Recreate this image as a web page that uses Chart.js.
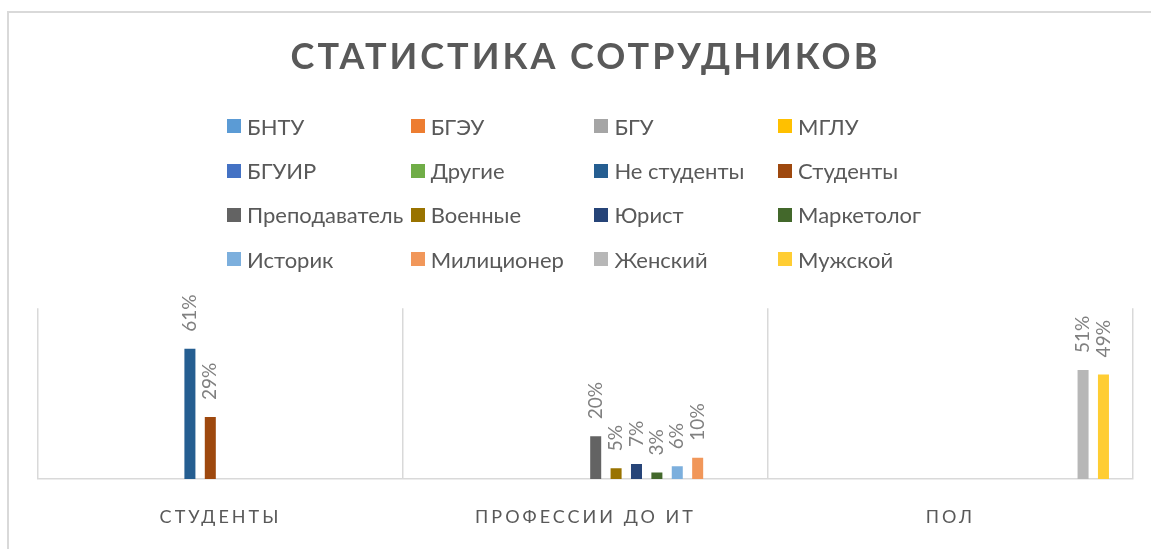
<!DOCTYPE html>
<html>
<head>
<meta charset="utf-8">
<script src="https://cdn.jsdelivr.net/npm/chart.js@4.4.1/dist/chart.umd.min.js"></script>
<style>
  html, body { margin: 0; padding: 0; background: #fff; overflow: hidden; }
  #wrap { position: relative; width: 1151px; height: 549px; }
  #frame { position: absolute; left: 7px; top: 11px; width: 1200px; height: 600px;
           border-left: 2px solid #d9d9d9; border-top: 2px solid #d9d9d9; }
  canvas { position: absolute; left: 0; top: 0; }
  #legend { position: absolute; left: 227px; top: 104px; display: grid;
            grid-template-columns: repeat(4, 183.7px); grid-auto-rows: 44.4px;
            font-family: Lato, sans-serif; font-size: 22px; color: #595959; }
  .item { display: flex; align-items: center; white-space: nowrap; }
  .box { width: 14px; height: 14px; margin-right: 6px; flex: none; }
</style>
</head>
<body>
<div id="wrap">
  <div id="frame"></div>
  <canvas id="staffChart" width="1151" height="549"></canvas>
  <div id="legend"></div>
</div>
<script>
// категории и серии
const categories = ["СТУДЕНТЫ", "ПРОФЕССИИ ДО ИТ", "ПОЛ"];

const bntu          = [null, null, null];
const bgeu          = [null, null, null];
const bgu           = [null, null, null];
const mglu          = [null, null, null];
const bguir         = [null, null, null];
const others        = [null, null, null];
const notStudents   = [0.61, null, null];
const students      = [0.29, null, null];
const teacher       = [null, 0.20, null];
const military      = [null, 0.05, null];
const lawyer        = [null, 0.07, null];
const marketer      = [null, 0.03, null];
const historian     = [null, 0.06, null];
const policeman     = [null, 0.10, null];
const female        = [null, null, 0.51];
const male          = [null, null, 0.49];

const seriesNames = ["БНТУ", "БГЭУ", "БГУ", "МГЛУ", "БГУИР", "Другие", "Не студенты", "Студенты",
                     "Преподаватель", "Военные", "Юрист", "Маркетолог", "Историк", "Милиционер", "Женский", "Мужской"];
const seriesValues = [bntu, bgeu, bgu, mglu, bguir, others, notStudents, students,
                      teacher, military, lawyer, marketer, historian, policeman, female, male];
const seriesColors = ["#5B9BD5", "#ED7D31", "#A5A5A5", "#FFC000", "#4472C4", "#70AD47", "#255E91", "#9E480E",
                      "#636363", "#997300", "#264478", "#43682B", "#7CAFDD", "#F1975A", "#B7B7B7", "#FFCD33"];

const htmlLegend = {
    id: "htmlLegend",
    afterUpdate(chart) {
        const box = document.getElementById("legend");
        box.innerHTML = "";
        Chart.defaults.plugins.legend.labels.generateLabels(chart).forEach(item => {
            const el = document.createElement("div");
            el.className = "item";
            const sw = document.createElement("span");
            sw.className = "box";
            sw.style.background = item.fillStyle;
            const tx = document.createElement("span");
            tx.textContent = item.text;
            el.append(sw, tx);
            box.append(el);
        });
    }
};

// разрядка букв в заголовке и подписях оси
const spacing = {
    id: "spacing",
    afterLayout(chart) {
        const x = chart.scales.x;
        if (x._spaced) return;
        const orig = x.drawLabels.bind(x);
        x.drawLabels = function (area) {
            const c = this.ctx;
            c.save();
            c.letterSpacing = "3px";
            orig(area);
            c.restore();
        };
        x._spaced = true;
    },
    beforeDraw(chart) { chart.ctx.letterSpacing = "3px"; },
    afterDraw(chart) { chart.ctx.letterSpacing = "0px"; }
};

const barLabels = {
    id: "barLabels",
    afterDatasetsDraw(chart) {
        const ctx = chart.ctx;
        ctx.save();
        ctx.letterSpacing = "0px";
        ctx.font = "19px Lato";
        ctx.fillStyle = "#808080";
        ctx.textAlign = "left";
        ctx.textBaseline = "middle";
        chart.data.datasets.forEach((ds, i) => {
            chart.getDatasetMeta(i).data.forEach((bar, j) => {
                const v = ds.data[j];
                if (v == null) return;
                ctx.save();
                ctx.translate(bar.x, bar.y - 17);
                ctx.rotate(-Math.PI / 2);
                ctx.fillText(Math.round(v * 100) + "%", 0, 0);
                ctx.restore();
            });
        });
        ctx.restore();
    }
};

new Chart(document.getElementById("staffChart"), {
    type: "bar",
    data: {
        labels: categories,
        datasets: seriesNames.map((name, i) => ({
            label: name,
            data: seriesValues[i],
            backgroundColor: seriesColors[i],
            categoryPercentage: 0.894,
            barPercentage: 0.54
        }))
    },
    options: {
        responsive: false,
        devicePixelRatio: 1,
        animation: false,
        events: [],
        layout: { padding: { left: 38, right: 18, top: 0, bottom: 0 } },
        plugins: {
            legend: { display: false },
            tooltip: { enabled: false },
            title: {
                display: true,
                text: "СТАТИСТИКА СОТРУДНИКОВ",
                color: "#595959",
                font: { family: "Lato", size: 36, weight: "bold" },
                padding: { top: 36, bottom: 229 }
            }
        },
        scales: {
            x: {
                grid: { color: "#d9d9d9", lineWidth: 1.5, drawTicks: false },
                border: { color: "#d9d9d9", width: 1.5 },
                ticks: { color: "#595959", font: { family: "Lato", size: 18 }, padding: 27 },
                afterFit(s) { s.height = 70; }
            },
            y: { display: false, min: 0, max: 0.8 }
        }
    },
    plugins: [htmlLegend, spacing, barLabels]
});
</script>
</body>
</html>
